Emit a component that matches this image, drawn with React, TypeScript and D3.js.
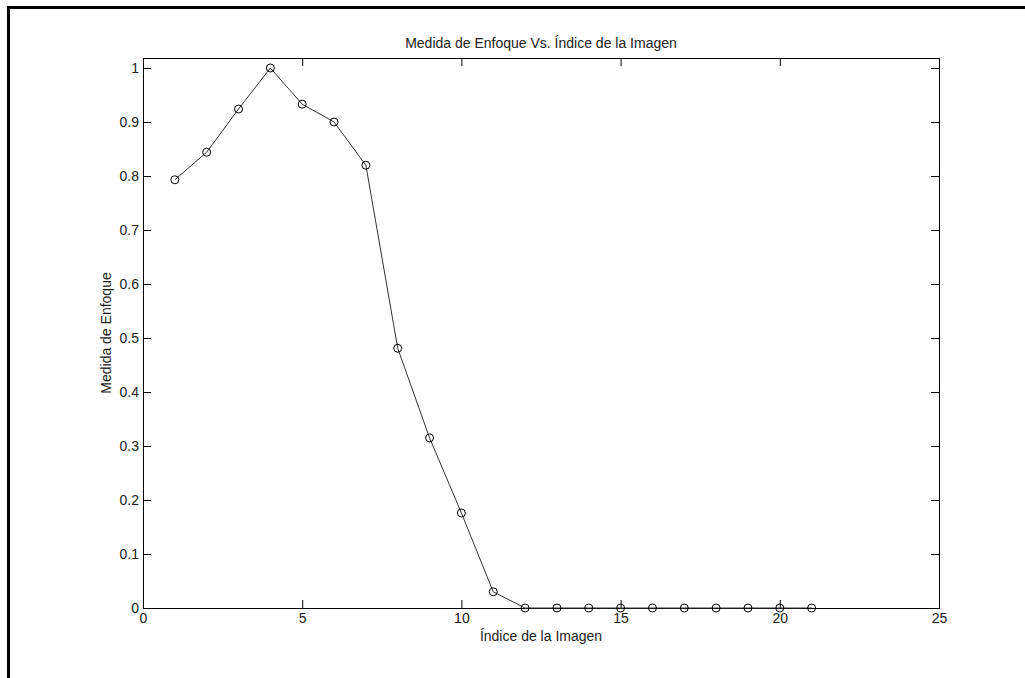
import React, { useEffect, useRef } from "react";
import * as d3 from "d3";

const indices = [1, 2, 3, 4, 5, 6, 7, 8, 9, 10, 11, 12, 13, 14, 15, 16, 17, 18, 19, 20, 21];
const enfoque = [0.793, 0.844, 0.924, 1.0, 0.933, 0.9, 0.82, 0.481, 0.315, 0.176, 0.03, 0, 0, 0, 0, 0, 0, 0, 0, 0, 0];
const xTicks = [0, 5, 10, 15, 20, 25];
const yTicks = [0, 0.1, 0.2, 0.3, 0.4, 0.5, 0.6, 0.7, 0.8, 0.9, 1];

export default function App() {
  const ref = useRef<SVGSVGElement>(null);

  useEffect(() => {
    const width = 1025;
    const height = 678;
    const margin = { top: 58, left: 143, bottom: 70, right: 86 };
    const iwidth = width - margin.left - margin.right;
    const iheight = height - margin.top - margin.bottom;
    const font = "Liberation Sans, Arial, sans-serif";
    const fontSize = "14px";

    const svg = d3.select(ref.current);
    svg.selectAll("*").remove();

    // outer frame (top and left edges visible)
    svg.append("path")
      .attr("d", `M8.5,${height} L8.5,7.5 L${width},7.5`)
      .attr("fill", "none")
      .attr("stroke", "#000")
      .attr("stroke-width", 3);

    const g = svg.append("g").attr("transform", `translate(${margin.left}, ${margin.top})`);

    const x = d3.scaleLinear().domain([0, 25]).range([0, iwidth]);
    const y = d3.scaleLinear().domain([0, 1.0185]).range([iheight, 0]);

    const tickLen = 8;
    const tickStyle = (sel: any) => {
      sel.select(".domain").remove();
      sel.selectAll("line").attr("stroke", "#000");
      sel.selectAll("text")
        .style("font-family", font)
        .style("font-size", fontSize)
        .attr("fill", "#222");
    };

    // bottom axis, ticks inward
    g.append("g")
      .attr("transform", `translate(0, ${iheight})`)
      .call(d3.axisBottom(x).tickValues(xTicks).tickSize(-tickLen).tickPadding(5).tickFormat(d3.format("d")))
      .call(tickStyle);

    // top axis ticks
    g.append("g")
      .call(d3.axisTop(x).tickValues(xTicks).tickSize(-tickLen).tickFormat(() => ""))
      .call(tickStyle);

    // left axis
    g.append("g")
      .call(d3.axisLeft(y).tickValues(yTicks).tickSize(-tickLen).tickPadding(4).tickFormat((d: any) => d3.format("")(+d.toFixed(1))))
      .call(tickStyle);

    // right axis ticks
    g.append("g")
      .attr("transform", `translate(${iwidth}, 0)`)
      .call(d3.axisRight(y).tickValues(yTicks).tickSize(-tickLen).tickFormat(() => ""))
      .call(tickStyle);

    // box
    g.append("rect")
      .attr("x", 0.5)
      .attr("y", 0.5)
      .attr("width", iwidth)
      .attr("height", iheight)
      .attr("fill", "none")
      .attr("stroke", "#000")
      .attr("stroke-width", 1);

    const pts = indices.map((d, i) => [d, enfoque[i]] as [number, number]);

    const line = d3.line<[number, number]>()
      .x(d => x(d[0]))
      .y(d => y(d[1]));

    g.append("path")
      .datum(pts)
      .attr("fill", "none")
      .attr("stroke", "#333")
      .attr("stroke-width", 1)
      .attr("d", line);

    g.selectAll("circle.pt")
      .data(pts)
      .enter()
      .append("circle")
      .attr("class", "pt")
      .attr("cx", d => x(d[0]))
      .attr("cy", d => y(d[1]))
      .attr("r", 4)
      .attr("fill", "none")
      .attr("stroke", "#000")
      .attr("stroke-width", 1);

    // title
    svg.append("text")
      .attr("x", margin.left + iwidth / 2)
      .attr("y", 48)
      .attr("text-anchor", "middle")
      .attr("fill", "#222")
      .style("font-family", font)
      .style("font-size", fontSize)
      .text("Medida de Enfoque Vs. Índice de la Imagen");

    // x label
    svg.append("text")
      .attr("x", margin.left + iwidth / 2)
      .attr("y", 641)
      .attr("text-anchor", "middle")
      .attr("fill", "#222")
      .style("font-family", font)
      .style("font-size", fontSize)
      .text("Índice de la Imagen");

    // y label
    svg.append("text")
      .attr("transform", `translate(111, ${margin.top + iheight / 2}) rotate(-90)`)
      .attr("text-anchor", "middle")
      .attr("fill", "#222")
      .style("font-family", font)
      .style("font-size", fontSize)
      .text("Medida de Enfoque");
  }, []);

  return (
    <svg
      ref={ref}
      width={1025}
      height={678}
      style={{ position: "absolute", left: 0, top: 0, background: "#fff" }}
    />
  );
}
